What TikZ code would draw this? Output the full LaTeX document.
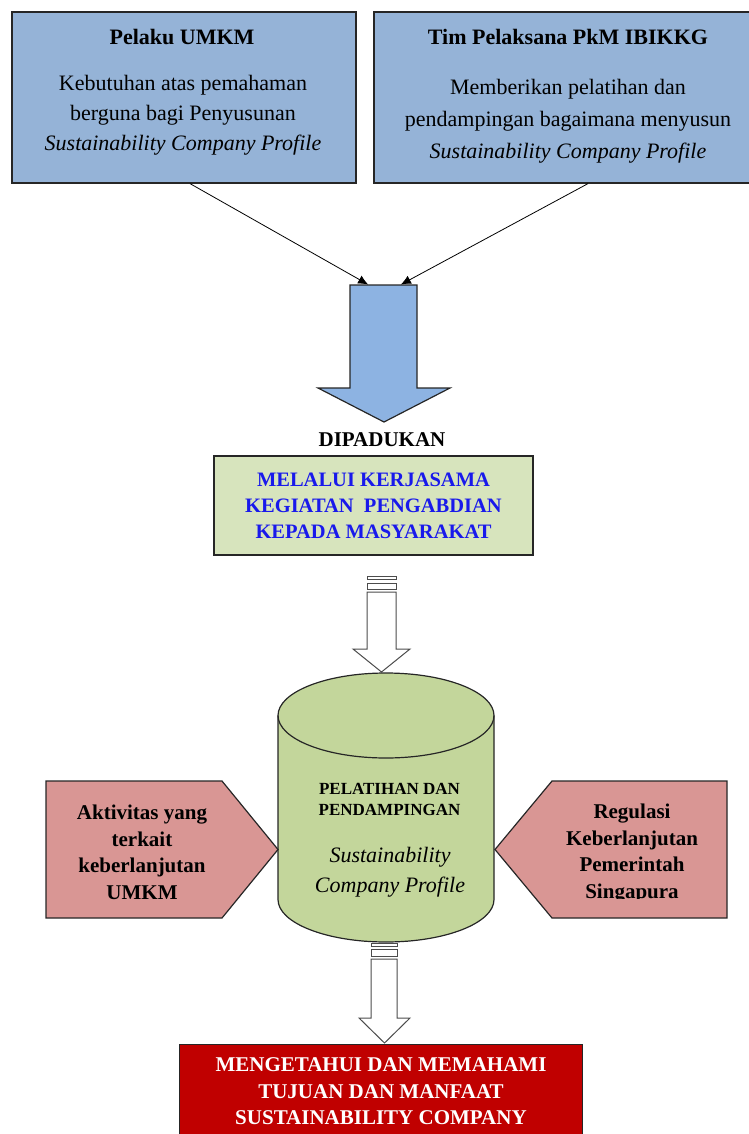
\documentclass[tikz,border=0pt]{standalone}
\usepackage{fontspec}
\setmainfont{Liberation Serif}
\usetikzlibrary{arrows.meta,positioning}

\definecolor{boxblue}{RGB}{149,179,215}
\definecolor{arrblue}{RGB}{141,179,226}
\definecolor{lightgreen}{RGB}{215,228,189}
\definecolor{cylgreen}{RGB}{195,214,155}
\definecolor{rosered}{RGB}{217,150,148}
\definecolor{darkred}{RGB}{192,0,0}
\definecolor{textblue}{RGB}{25,25,235}

\begin{document}
\begin{tikzpicture}[x=1pt,y=1pt,>={Latex[length=10pt,width=9pt]},
    actor/.style={draw=black!85,line width=1.2pt,fill=boxblue,minimum height=171pt},
    actortext/.style={align=center,font=\fontsize{22}{30}\selectfont},
    bigarrow/.style={draw=black!85,line width=1.2pt,fill=arrblue},
    hollow/.style={draw=black!70,line width=1pt,fill=white},
    feed/.style={draw=black!85,line width=1.2pt,fill=rosered},
    feedtext/.style={align=center,font=\bfseries\fontsize{21}{26.5}\selectfont},
    link/.style={->,line width=0.8pt,shorten >=1pt}]

    \useasboundingbox (0,0) rectangle (748,-1134);

    % top boxes
    \node[actor,minimum width=344pt] (umkm) at (184,-97.5) {};
    \node[actortext,font=\bfseries\fontsize{22}{30}\selectfont] (umkmtitle) at (182,-37) {Pelaku UMKM};
    \node[actortext] (umkmbody) at (183,-115) {Kebutuhan atas pemahaman\\berguna bagi Penyusunan\\\textit{Sustainability Company Profile}};

    \node[actor,minimum width=384pt] (tim) at (566,-97.5) {};
    \node[actortext,font=\bfseries\fontsize{22}{30}\selectfont] (timtitle) at (568,-37) {Tim Pelaksana PkM IBIKKG};
    \node[actortext,font=\fontsize{22}{32}\selectfont] (timbody) at (568,-121) {Memberikan pelatihan dan\\pendampingan bagaimana menyusun\\\textit{Sustainability Company Profile}};

    % big arrow
    \coordinate (padutop) at (384,-285);
    \draw[bigarrow] (350,-285) -- (417,-285) -- (417,-388) -- (450,-388) -- (384,-422)
        -- (318,-388) -- (350,-388) -- cycle;
    \draw[link] ([xshift=6pt]umkm.south) -- ([xshift=-15pt]padutop);
    \draw[link] ([xshift=22pt]tim.south) -- ([xshift=16pt]padutop);

    \node[font=\bfseries\fontsize{21}{24}\selectfont] (padu) at (382,-440) {DIPADUKAN};
    \node[draw=black!85,line width=1.2pt,fill=lightgreen,minimum width=319pt,minimum height=99pt,
        align=center,text=textblue,font=\bfseries\fontsize{20.5}{26}\selectfont] (kerja) at (373.5,-505.5)
        {MELALUI KERJASAMA\\KEGIATAN\ \ PENGABDIAN\\KEPADA MASYARAKAT};

    % striped arrow into cylinder
    \draw[hollow] (367,-576) rectangle (396,-579.5);
    \draw[hollow] (367,-583) rectangle (396,-589);
    \draw[hollow] (367,-592) -- (396,-592) -- (396,-649) -- (410,-649) -- (381.5,-672)
        -- (353,-649) -- (367,-649) -- cycle;

    % cylinder
    \path[draw=black!85,line width=1.2pt,fill=cylgreen] (278,-715.5) -- (278,-899.5)
        arc[start angle=180,end angle=360,x radius=108,y radius=42.5] -- (494,-715.5)
        arc[start angle=0,end angle=180,x radius=108,y radius=42.5] -- cycle;
    \draw[draw=black!85,line width=1.2pt] (278,-715.5)
        arc[start angle=180,end angle=360,x radius=108,y radius=42.5];
    \node[font=\bfseries\fontsize{17}{21}\selectfont,align=center] (latih) at (389.5,-799.5) {PELATIHAN DAN\\PENDAMPINGAN};
    \node[font=\itshape\fontsize{22}{30}\selectfont,align=center] (profil) at (390,-872) {Sustainability\\Company Profile};

    % side inputs
    \draw[feed] (46,-781) -- (222,-781) -- (278,-849.5) -- (222,-918) -- (46,-918) -- cycle;
    \node[feedtext] (aktiv) at (142,-852.5) {Aktivitas yang\\terkait\\keberlanjutan\\UMKM};

    \draw[feed] (727,-781) -- (552,-781) -- (495,-849.5) -- (552,-918) -- (727,-918) -- cycle;
    \begin{scope}
        \clip (552,-781) rectangle (727,-898);
        \node[feedtext] (regulasi) at (632,-853.5) {Regulasi\\Keberlanjutan\\Pemerintah\\Singapura};
    \end{scope}

    % striped arrow into result
    \draw[hollow] (371,-943) rectangle (397,-946);
    \draw[hollow] (371,-949) rectangle (397,-956);
    \draw[hollow] (371,-959) -- (397,-959) -- (397,-1018) -- (410,-1018) -- (384.5,-1043)
        -- (359,-1018) -- (371,-1018) -- cycle;

    \node[draw=black!85,line width=1.2pt,fill=darkred,minimum width=403pt,minimum height=94pt,anchor=north,
        align=center,text=white,font=\bfseries\fontsize{21}{26.5}\selectfont] (hasil) at (381,-1044)
        {MENGETAHUI DAN MEMAHAMI\\TUJUAN DAN MANFAAT\\SUSTAINABILITY COMPANY};
\end{tikzpicture}
\end{document}
